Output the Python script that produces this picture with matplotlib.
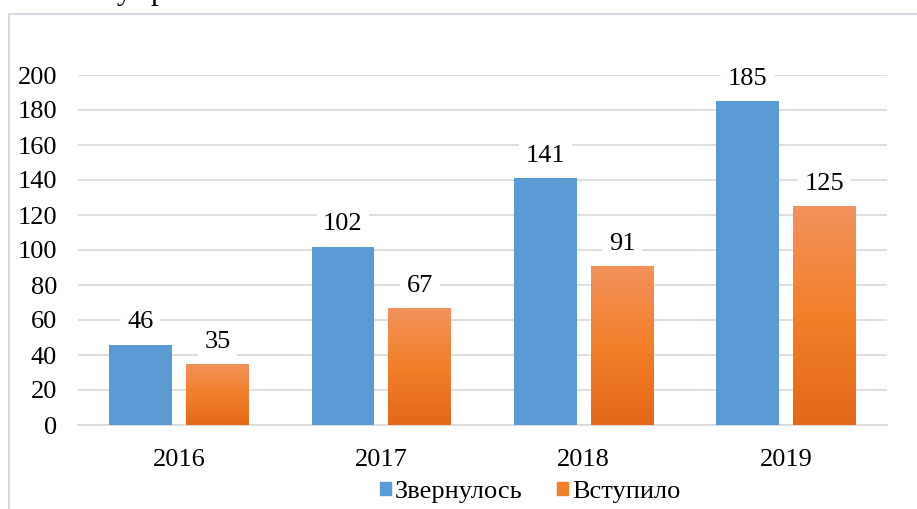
import numpy as np
import matplotlib.pyplot as plt
from matplotlib.patches import Patch, Rectangle
from matplotlib.colors import LinearSegmentedColormap

plt.rcParams['font.family'] = ['Liberation Serif', 'DejaVu Serif']

years = ['2016', '2017', '2018', '2019']
applied = [46, 102, 141, 185]     # Звернулось
entered = [35, 67, 91, 125]       # Вступило

BLUE = '#5B9BD5'
ORANGE = '#F07F2E'
GRID = '#D9D9D9'
FS = 19

fig = plt.figure(figsize=(9.17, 5.09), dpi=100)
ax = fig.add_axes([78/917, 84/509, 809/917, 350/509])

# outer chart frame (cut off at right/bottom in the original)
fig.patches.append(Rectangle((8.5/917, -0.2), 1.2, 1.0 - 13.5/509 + 0.2,
                             transform=fig.transFigure, fill=False,
                             edgecolor='#D6DCE4', lw=1.5, zorder=0))
# fragment of the document text above the chart (only descenders visible)
fig.text(117/917, 1 + 1/509, 'у', fontsize=22, va='baseline', ha='left')
fig.text(151/917, 1 + 1/509, 'р', fontsize=22, va='baseline', ha='left')

x = np.arange(len(years))
w = 0.31
off = 0.19
b1 = ax.bar(x - off, applied, w, color=BLUE, zorder=3)
b2 = ax.bar(x + off, entered, w, color='none', zorder=3)

cmap = LinearSegmentedColormap.from_list('og', ['#E3681A', '#F37F2A', '#F2925C'])
grad = np.linspace(1, 0, 256).reshape(-1, 1)
for r in b2:
    x0, h = r.get_x(), r.get_height()
    im = ax.imshow(grad, extent=[x0, x0 + r.get_width(), 0, h], cmap=cmap,
                   aspect='auto', zorder=3, vmin=0, vmax=1)
    im.set_clip_path(r)

for bars, vals in ((b1, applied), (b2, entered)):
    for r, v in zip(bars, vals):
        ax.annotate(str(v), (r.get_x() + r.get_width()/2, v), xytext=(0, 8),
                    textcoords='offset points', ha='center', va='bottom',
                    fontsize=FS, zorder=4,
                    bbox=dict(boxstyle='square,pad=0.25', fc='white', ec='none'))

ax.set_xlim(-0.5, 3.5)
ax.set_ylim(0, 200)
ax.set_yticks(range(0, 201, 20))
ax.set_xticks(x)
ax.set_xticklabels(years)
ax.tick_params(length=0, labelsize=FS, colors='#000000')
ax.tick_params(axis='y', pad=15)
ax.tick_params(axis='x', pad=17)
ax.yaxis.grid(True, color=GRID, lw=1.2, zorder=0)
ax.set_axisbelow(True)
for s in ['top', 'right', 'left']:
    ax.spines[s].set_visible(False)
ax.spines['bottom'].set_color(GRID)
ax.spines['bottom'].set_linewidth(1.2)

handles = [Patch(color=BLUE, label='Звернулось'), Patch(color=ORANGE, label='Вступило')]
fig.legend(handles=handles, loc='center', bbox_to_anchor=(530/917, 1 - 492/509),
           ncol=2, frameon=False, fontsize=FS, handlelength=0.42, handleheight=0.42,
           handletextpad=0.15, columnspacing=1.3, borderpad=0)

fig.savefig('out.png', dpi=100)
